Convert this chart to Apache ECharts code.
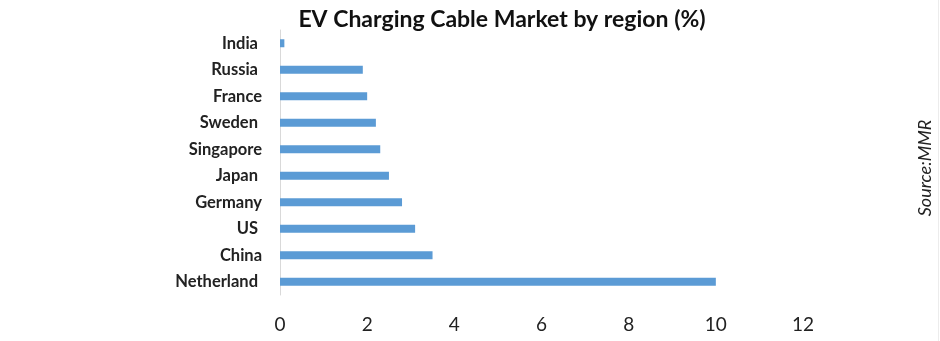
<!DOCTYPE html>
<html>
<head>
<meta charset="utf-8">
<script src="https://cdn.jsdelivr.net/npm/echarts@6/dist/echarts.min.js"></script>
<style>
  html, body { margin: 0; padding: 0; background: #fff; }
  #chart { width: 940px; height: 341px; }
</style>
</head>
<body>
<div id="chart"></div>
<script>
// Market share by region, listed bottom to top
const regions = ['Netherland ', 'China', 'US ', 'Germany', 'Japan ', 'Singapore', 'Sweden ', 'France', 'Russia ', 'India '];
const shares = [10, 3.5, 3.1, 2.8, 2.5, 2.3, 2.2, 2.0, 1.9, 0.1];
const xTicks = [0, 2, 4, 6, 8, 10, 12];

const chart = echarts.init(document.getElementById('chart'));
chart.setOption({
  animation: false,
  backgroundColor: '#ffffff',
  title: {
    text: 'EV Charging Cable Market by region (%)',
    left: 497,
    top: 3,
    textAlign: 'center',
    textStyle: { fontFamily: 'Lato', fontWeight: 'bold', fontSize: 23, color: '#111' }
  },
  graphic: [{
    type: 'text',
    x: 925,
    y: 168,
    rotation: Math.PI / 2,
    style: {
      text: 'Source:MMR',
      fontFamily: 'Lato',
      fontStyle: 'italic',
      fontSize: 18,
      fill: '#222',
      align: 'center',
      verticalAlign: 'middle'
    }
  }, {
    type: 'line',
    shape: { x1: 938.5, y1: 0, x2: 938.5, y2: 341 },
    style: { stroke: '#ececec', lineWidth: 1 }
  }],
  grid: { left: 280, right: 137, top: 30, height: 265, containLabel: false },
  xAxis: {
    type: 'value',
    min: xTicks[0],
    max: xTicks[xTicks.length - 1],
    interval: 2,
    axisLine: { show: false },
    axisTick: { show: false },
    splitLine: { show: false },
    axisLabel: { fontFamily: 'Lato', fontSize: 19, color: '#222', margin: 20 }
  },
  yAxis: {
    type: 'category',
    data: regions,
    axisLine: { show: true, lineStyle: { color: '#d9d9d9', width: 1 } },
    axisTick: { show: false },
    axisLabel: { fontFamily: 'Lato', fontWeight: 'bold', fontSize: 16.5, color: '#222', margin: 18 }
  },
  series: [{
    type: 'bar',
    data: shares,
    barWidth: 8,
    itemStyle: { color: '#5b9bd5' }
  }]
});
</script>
</body>
</html>
